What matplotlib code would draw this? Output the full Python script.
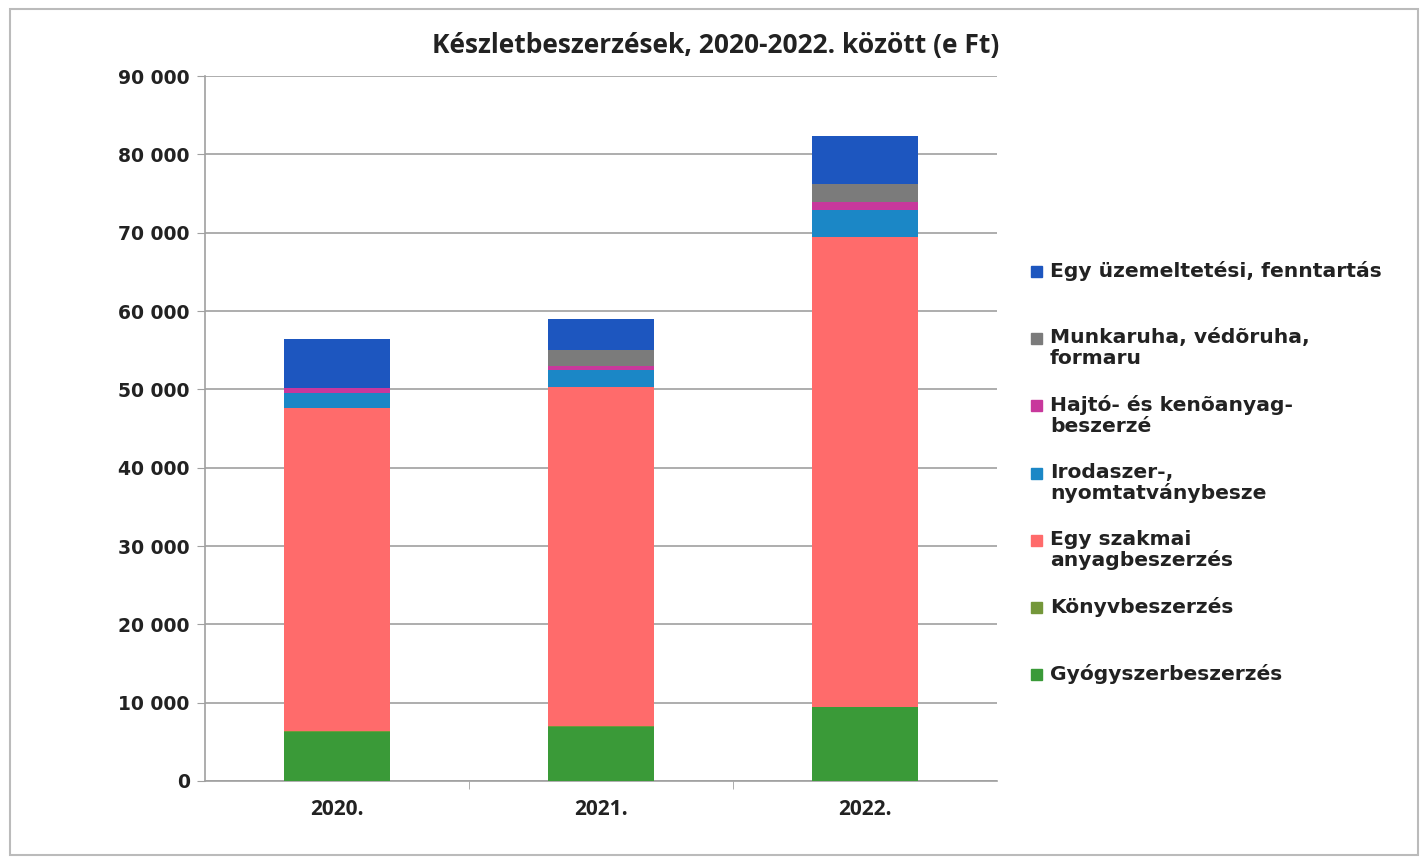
import numpy as np
import matplotlib
matplotlib.use("Agg")
from matplotlib import pyplot as plt
from matplotlib.patches import Rectangle
from matplotlib.ticker import FuncFormatter

# adatok (e Ft)
evek = ['2020.', '2021.', '2022.']
gyogyszer = [6300, 6950, 9400]
konyv = [60, 60, 60]
szakmai = [41300, 43350, 60050]
irodaszer = [1920, 2170, 3320]
hajto = [640, 510, 1030]
munkaruha = [0, 1920, 2300]
uzemeltetes = [6260, 3960, 6130]

nevek = ['Gyógyszerbeszerzés', 'Könyvbeszerzés', 'Egy szakmai\nanyagbeszerzés',
         'Irodaszer-,\nnyomtatványbesze', 'Hajtó- és kenõanyag-\nbeszerzé',
         'Munkaruha, védõruha,\nformaru', 'Egy üzemeltetési, fenntartás']
sorok = [gyogyszer, konyv, szakmai, irodaszer, hajto, munkaruha, uzemeltetes]
szinek = ['#3a9a38', '#74973a', '#ff6b6b', '#1b87c6', '#c8389c', '#7b7b7b', '#1d56bf']

fig = plt.figure(figsize=(14.24, 8.65), dpi=100)
ax = fig.add_axes([205/1424, 1-781/865, (997-205)/1424, (781-76)/865])

x = np.arange(len(evek))
alja = np.zeros(len(evek))
for adat, szin in zip(sorok, szinek):
    ax.bar(x, adat, width=0.4, bottom=alja, color=szin, zorder=3)
    alja += np.array(adat)

ax.set_xlim(-0.5, 2.5)
ax.set_ylim(0, 90000)
ax.set_yticks(np.arange(0, 90001, 10000))
ax.yaxis.set_major_formatter(FuncFormatter(lambda v, p: f'{int(v):,}'.replace(',', ' ')))
ax.grid(axis='y', color='#a0a0a0', linewidth=1.2, zorder=0)
for s in ['top', 'right']:
    ax.spines[s].set_visible(False)
ax.spines['left'].set_color('#a0a0a0')
ax.spines['bottom'].set_color('#a0a0a0')
ax.spines['left'].set_linewidth(1.2)
ax.spines['bottom'].set_linewidth(1.2)

ax.set_xticks(x)
ax.set_xticklabels(evek, fontsize=15, fontweight='bold', family='Open Sans', color='#222222')
ax.set_xticks([0.5, 1.5], minor=True)
ax.tick_params(axis='x', which='major', length=0, pad=13)
ax.tick_params(axis='x', which='minor', length=6, color='#a0a0a0', direction='out')
ax.tick_params(axis='y', length=6, color='#a0a0a0', pad=5)
for t in ax.get_yticklabels():
    t.set_fontsize(13.5)
    t.set_fontweight('bold')
    t.set_color('#222222')

fig.text(716/1424, 1-46/865, 'Készletbeszerzések, 2020-2022. között (e Ft)',
         ha='center', va='center', fontsize=19, fontweight='bold', family='Open Sans', color='#222222')

# jelmagyarázat kézzel (Excel-szerû elrendezés)
y0 = 272
for i, (nev, szin) in enumerate(zip(nevek[::-1], szinek[::-1])):
    yy = 1 - (y0 + i * 67.2) / 865
    fig.add_artist(Rectangle((1031/1424, yy - 5/865), 11/1424, 11/865,
                             transform=fig.transFigure, color=szin))
    fig.text(1050/1424, yy + 11/865, nev, ha='left', va='top', fontsize=14.6,
             fontweight='bold', color='#222222', linespacing=1.1)

# keret
fig.add_artist(Rectangle((10/1424, 10/865), 1408/1424, 846/865, transform=fig.transFigure,
                         fill=False, edgecolor='#bbbbbb', linewidth=1.5))

plt.savefig('out.png', dpi=100)
